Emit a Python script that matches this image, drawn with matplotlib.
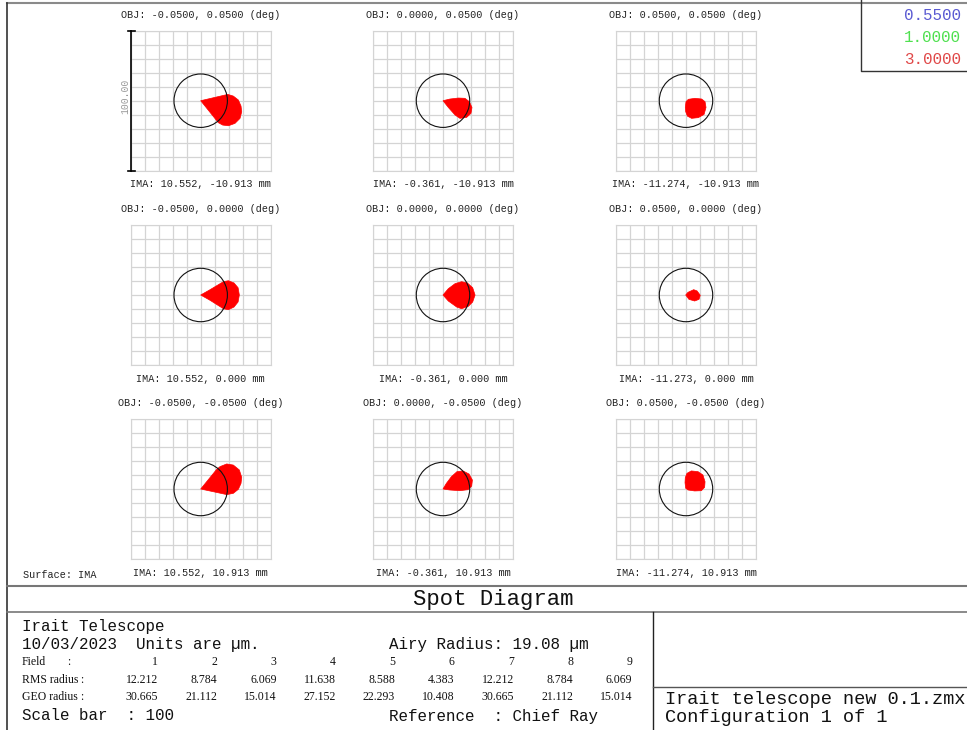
import matplotlib
matplotlib.use("Agg")
import matplotlib.pyplot as plt
from matplotlib.patches import Circle

W, H = 967, 730
MONO = "Liberation Mono"
NARROW = "Liberation Serif"

# ---- data ----
obj_labels = ["OBJ: -0.0500, 0.0500 (deg)", "OBJ: 0.0000, 0.0500 (deg)", "OBJ: 0.0500, 0.0500 (deg)",
              "OBJ: -0.0500, 0.0000 (deg)", "OBJ: 0.0000, 0.0000 (deg)", "OBJ: 0.0500, 0.0000 (deg)",
              "OBJ: -0.0500, -0.0500 (deg)", "OBJ: 0.0000, -0.0500 (deg)", "OBJ: 0.0500, -0.0500 (deg)"]
ima_labels = ["IMA: 10.552, -10.913 mm", "IMA: -0.361, -10.913 mm", "IMA: -11.274, -10.913 mm",
              "IMA: 10.552, 0.000 mm", "IMA: -0.361, 0.000 mm", "IMA: -11.273, 0.000 mm",
              "IMA: 10.552, 10.913 mm", "IMA: -0.361, 10.913 mm", "IMA: -11.274, 10.913 mm"]

wavelengths = ["0.5500", "1.0000", "3.0000"]
wave_colors = ["#5a5ad2", "#4fe04f", "#e04848"]

airy_radius = 19.08   # um
scale_bar = 100       # um

fields = [1, 2, 3, 4, 5, 6, 7, 8, 9]
rms_radius = ["12.212", "8.784", "6.069", "11.638", "8.588", "4.383", "12.212", "8.784", "6.069"]
geo_radius = ["30.665", "21.112", "15.014", "27.152", "22.293", "10.408", "30.665", "21.112", "15.014"]

# spot outlines (um, relative to chief ray)
spot1 = [(0, 0), (19.3, 4.5), (23.3, 3.3), (26.9, 0.5), (28.8, -3.8), (29.3, -7.9), (28.1, -12.6),
         (24.5, -16.2), (19.8, -17.9), (15.7, -17.4), (12.6, -15.7)]
spot2 = [(0, 0), (5, 1.2), (11, 1.9), (15.7, 1.7), (18.8, -0.7), (20.7, -4.8), (20, -9), (16.9, -11.9),
         (12.1, -12.6), (8.6, -10.2), (3.8, -4.8)]
spot3 = [(-0.5, -4.8), (0, -0.7), (1.7, 1), (6.4, 1.7), (11.2, 1.2), (13.6, -0.7), (14.3, -4.8),
         (12.9, -9.8), (8.8, -12.1), (4, -12.6), (1, -11), (-0.2, -7.9)]
spot4 = [(0, 0), (6.7, 3.8), (16.2, 9.5), (19.8, 10.2), (23.8, 8.6), (26.7, 5.2), (27.6, 0), (26.7, -5),
         (23.8, -8.6), (19.8, -10.5), (16.2, -9.8), (6.7, -3.8)]
spot5 = [(0, 0), (3.8, 4.5), (8.6, 8.1), (13.3, 9.5), (17.4, 8.6), (21.2, 5.2), (22.9, 0), (21.2, -5),
         (18.1, -8.1), (13.3, -9.8), (9.8, -8.6), (3.8, -4.3)]
spot6 = [(-0.2, 0), (1.4, 1.9), (5.5, 3.8), (7.9, 2.9), (10.2, -0.2), (9.3, -3.1), (6.2, -4.3), (2.1, -3.1)]
spot7 = [(0, 0), (18.6, -4.0), (23.3, -3.1), (26.9, -0.2), (28.8, 4.0), (29.3, 8.3), (27.6, 13.6),
         (23.3, 17.1), (18.6, 17.9), (13.8, 16), (11.4, 14)]
spot8 = [(0, 0), (4.8, -0.7), (11.9, -1.2), (17.9, -0.5), (20.5, 2.1), (21, 6.4), (18.6, 10.7),
         (14.3, 12.9), (10, 12.4), (6, 8.8), (2.4, 4)]
spot9 = [(-0.7, 4.5), (-0.2, 0.5), (1.4, -0.7), (6.2, -1.4), (11, -1.2), (13.3, 1.2), (13.6, 5.2),
         (12.1, 10), (8.6, 12.4), (3.8, 12.9), (0.7, 11.2), (-0.5, 8.1)]
spots = [spot1, spot2, spot3, spot4, spot5, spot6, spot7, spot8, spot9]

# ---- layout (pixels) ----
cell_left = [130.7, 373, 616]
cell_top = [30.7, 225, 419]
cell = 140

fig = plt.figure(figsize=(W / 100, H / 100), dpi=100)
bg = fig.add_axes([0, 0, 1, 1])
bg.set_xlim(0, W)
bg.set_ylim(H, 0)
bg.axis("off")

for i in range(9):
    r, c = divmod(i, 3)
    x0, y0 = cell_left[c], cell_top[r]
    ax = fig.add_axes([x0 / W, 1 - (y0 + cell) / H, cell / W, cell / H])
    ax.set_xlim(-scale_bar / 2, scale_bar / 2)
    ax.set_ylim(-scale_bar / 2, scale_bar / 2)
    ticks = range(-50, 51, 10)
    ax.set_xticks(ticks)
    ax.set_yticks(ticks)
    ax.tick_params(length=0, labelbottom=False, labelleft=False)
    ax.grid(True, color="#d4d4d4", lw=0.9)
    for s in ax.spines.values():
        s.set_color("#d4d4d4")
    ax.set_axisbelow(True)
    xs = [p[0] for p in spots[i]]
    ys = [p[1] for p in spots[i]]
    ax.fill(xs, ys, color="#ff0000", lw=0.5, ec="#ff0000", zorder=3)
    ax.add_patch(Circle((0, 0), airy_radius, fill=False, ec="#111111", lw=0.8, zorder=4))

    cx = x0 + cell / 2
    bg.text(cx, y0 - 16, obj_labels[i], family=MONO, fontsize=7.3, color="#222222",
            ha="center", va="center")
    bg.text(cx, y0 + cell + 13.5, ima_labels[i], family=MONO, fontsize=7.3, color="#222222",
            ha="center", va="center")

    if i == 0:
        # scale bar
        ax.plot([-50, -50], [-50, 50], color="black", lw=1.2, clip_on=False, zorder=5)
        ax.plot([-52, -47], [50, 50], color="black", lw=1.2, clip_on=False, zorder=5)
        ax.plot([-52, -47], [-50, -50], color="black", lw=1.2, clip_on=False, zorder=5)
        ax.text(-54, 3, "%.2f" % scale_bar, rotation=90, family=MONO, fontsize=7,
                color="#999999", ha="center", va="center", clip_on=False)

bg.text(23, 575, "Surface: IMA", family=MONO, fontsize=7.3, color="#222222", va="center")

# frame lines
bg.plot([7, W], [3, 3], color="#8a8a8a", lw=1.5)
bg.plot([7, 7], [3, H], color="#333333", lw=1.2)
bg.plot([7, W], [586, 586], color="#777777", lw=1.5)
bg.plot([7, W], [612, 612], color="#777777", lw=1.2)
bg.plot([653, 653], [612, H], color="#222222", lw=1.0)
bg.plot([653, W], [687, 687], color="#555555", lw=1.0)

# wavelength legend box
bg.plot([861, 861, W], [0, 71, 71], color="#333333", lw=1.0)
for k, (wl, col) in enumerate(zip(wavelengths, wave_colors)):
    bg.text(961, 16 + 22 * k, wl, family=MONO, fontsize=11.4, color=col, ha="right", va="center")

bg.text(493, 599, "Spot Diagram", family=MONO, fontsize=16, color="#111111", ha="center", va="center")

# info block
big = dict(family=MONO, fontsize=11.4, color="#111111", va="center")
bg.text(22, 626, "Irait Telescope", **big)
bg.text(22, 644, "10/03/2023  Units are \u00b5m.", **big)
bg.text(389, 644, "Airy Radius: %.2f \u00b5m" % airy_radius, **big)
bg.text(22, 716, "Scale bar  : %d" % scale_bar, **big)
bg.text(389, 716, "Reference  : Chief Ray", **big)

small = dict(family=NARROW, fontsize=8.5, color="#111111", va="center")
bg.text(22, 662, "Field", **small)
bg.text(67, 662, ":", **small)
bg.text(22, 680, "RMS radius", **small)
bg.text(80, 680, ":", **small)
bg.text(22, 697, "GEO radius", **small)
bg.text(80, 697, ":", **small)
for k in range(len(fields)):
    xr = 158 + 59.3 * k
    bg.text(xr, 662, str(fields[k]), ha="right", **small)
    bg.text(xr, 680, rms_radius[k], ha="right", **small)
    bg.text(xr, 697, geo_radius[k], ha="right", **small)

bg.text(665, 700, "Irait telescope new 0.1.zmx", family=MONO, fontsize=13.4, color="#111111", va="center")
bg.text(665, 718, "Configuration 1 of 1", family=MONO, fontsize=13.4, color="#111111", va="center")

fig.savefig("out.png", dpi=100)
